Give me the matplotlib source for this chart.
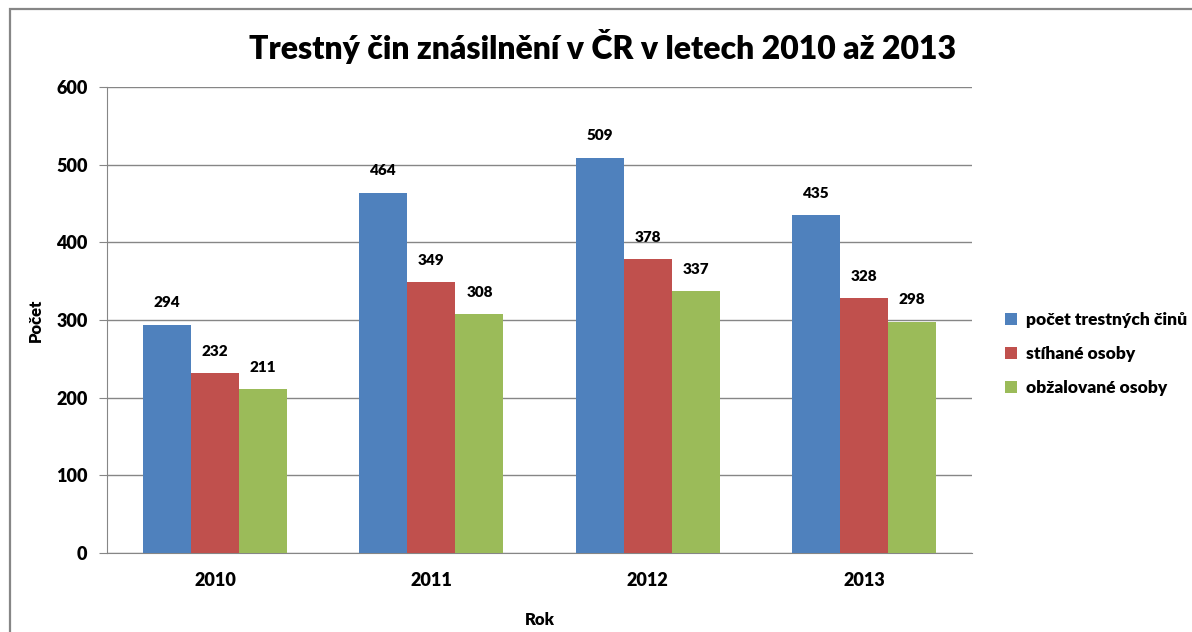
import matplotlib
matplotlib.use("Agg")
import matplotlib.pyplot as plt
from matplotlib.patches import Rectangle
import numpy as np

plt.rcParams['font.family'] = ['Lato', 'DejaVu Sans']

years = ['2010', '2011', '2012', '2013']
crimes = [294, 464, 509, 435]
prosecuted = [232, 349, 378, 328]
charged = [211, 308, 337, 298]

series = [
    ('počet trestných činů', crimes, '#4F81BD'),
    ('stíhané osoby', prosecuted, '#C0504D'),
    ('obžalované osoby', charged, '#9BBB59'),
]

fig = plt.figure(figsize=(11.92, 6.32), dpi=100)
ax = fig.add_axes([107 / 1192, 1 - 553 / 632, 865 / 1192, 466 / 632])

# outer chart border
fig.patches.append(Rectangle((10 / 1192, -0.05), 1.2, 1 - 9 / 632 + 0.05,
                             transform=fig.transFigure, fill=False,
                             edgecolor='#868686', linewidth=1.6))

x = np.arange(len(years))
w = 1 / 4.5
for i, (name, vals, col) in enumerate(series):
    pos = x + (i - 1) * w
    ax.bar(pos, vals, width=w, color=col, label=name, zorder=3)
    for p, v in zip(pos, vals):
        ax.annotate(str(v), (p, v), xytext=(0, 11), textcoords='offset points',
                    ha='center', va='bottom', fontsize=11, fontweight='heavy')

ax.set_xlim(-0.5, len(years) - 0.5)
ax.set_ylim(0, 600)
ax.set_yticks(range(0, 601, 100))
ax.set_xticks(x)
ax.set_xticklabels(years)
ax.tick_params(axis='y', length=6, color='#868686', labelsize=13, pad=8)
ax.tick_params(axis='x', length=0, labelsize=13, pad=14)
for lab in ax.get_xticklabels() + ax.get_yticklabels():
    lab.set_fontweight('heavy')

ax.grid(axis='y', color='#868686', linewidth=1, zorder=0)
for s in ['top', 'right']:
    ax.spines[s].set_visible(False)
ax.spines['left'].set_color('#868686')
ax.spines['bottom'].set_color('#868686')

ax.set_ylabel('Počet', fontsize=12, fontweight='heavy', labelpad=9)
ax.set_xlabel('Rok', fontsize=12, fontweight='heavy', labelpad=16)

fig.text(603 / 1192, 1 - 47 / 632, 'Trestný čin znásilnění v ČR v letech 2010 až 2013',
         ha='center', va='center', fontsize=23, fontweight='heavy')

ax.legend(loc='center left', bbox_to_anchor=(1.02, 0.427), frameon=False,
          prop={'size': 12.5, 'weight': 'heavy'}, handlelength=0.7,
          handleheight=0.7, handletextpad=0.5, labelspacing=1.05)

fig.savefig('out.png', dpi=100)
